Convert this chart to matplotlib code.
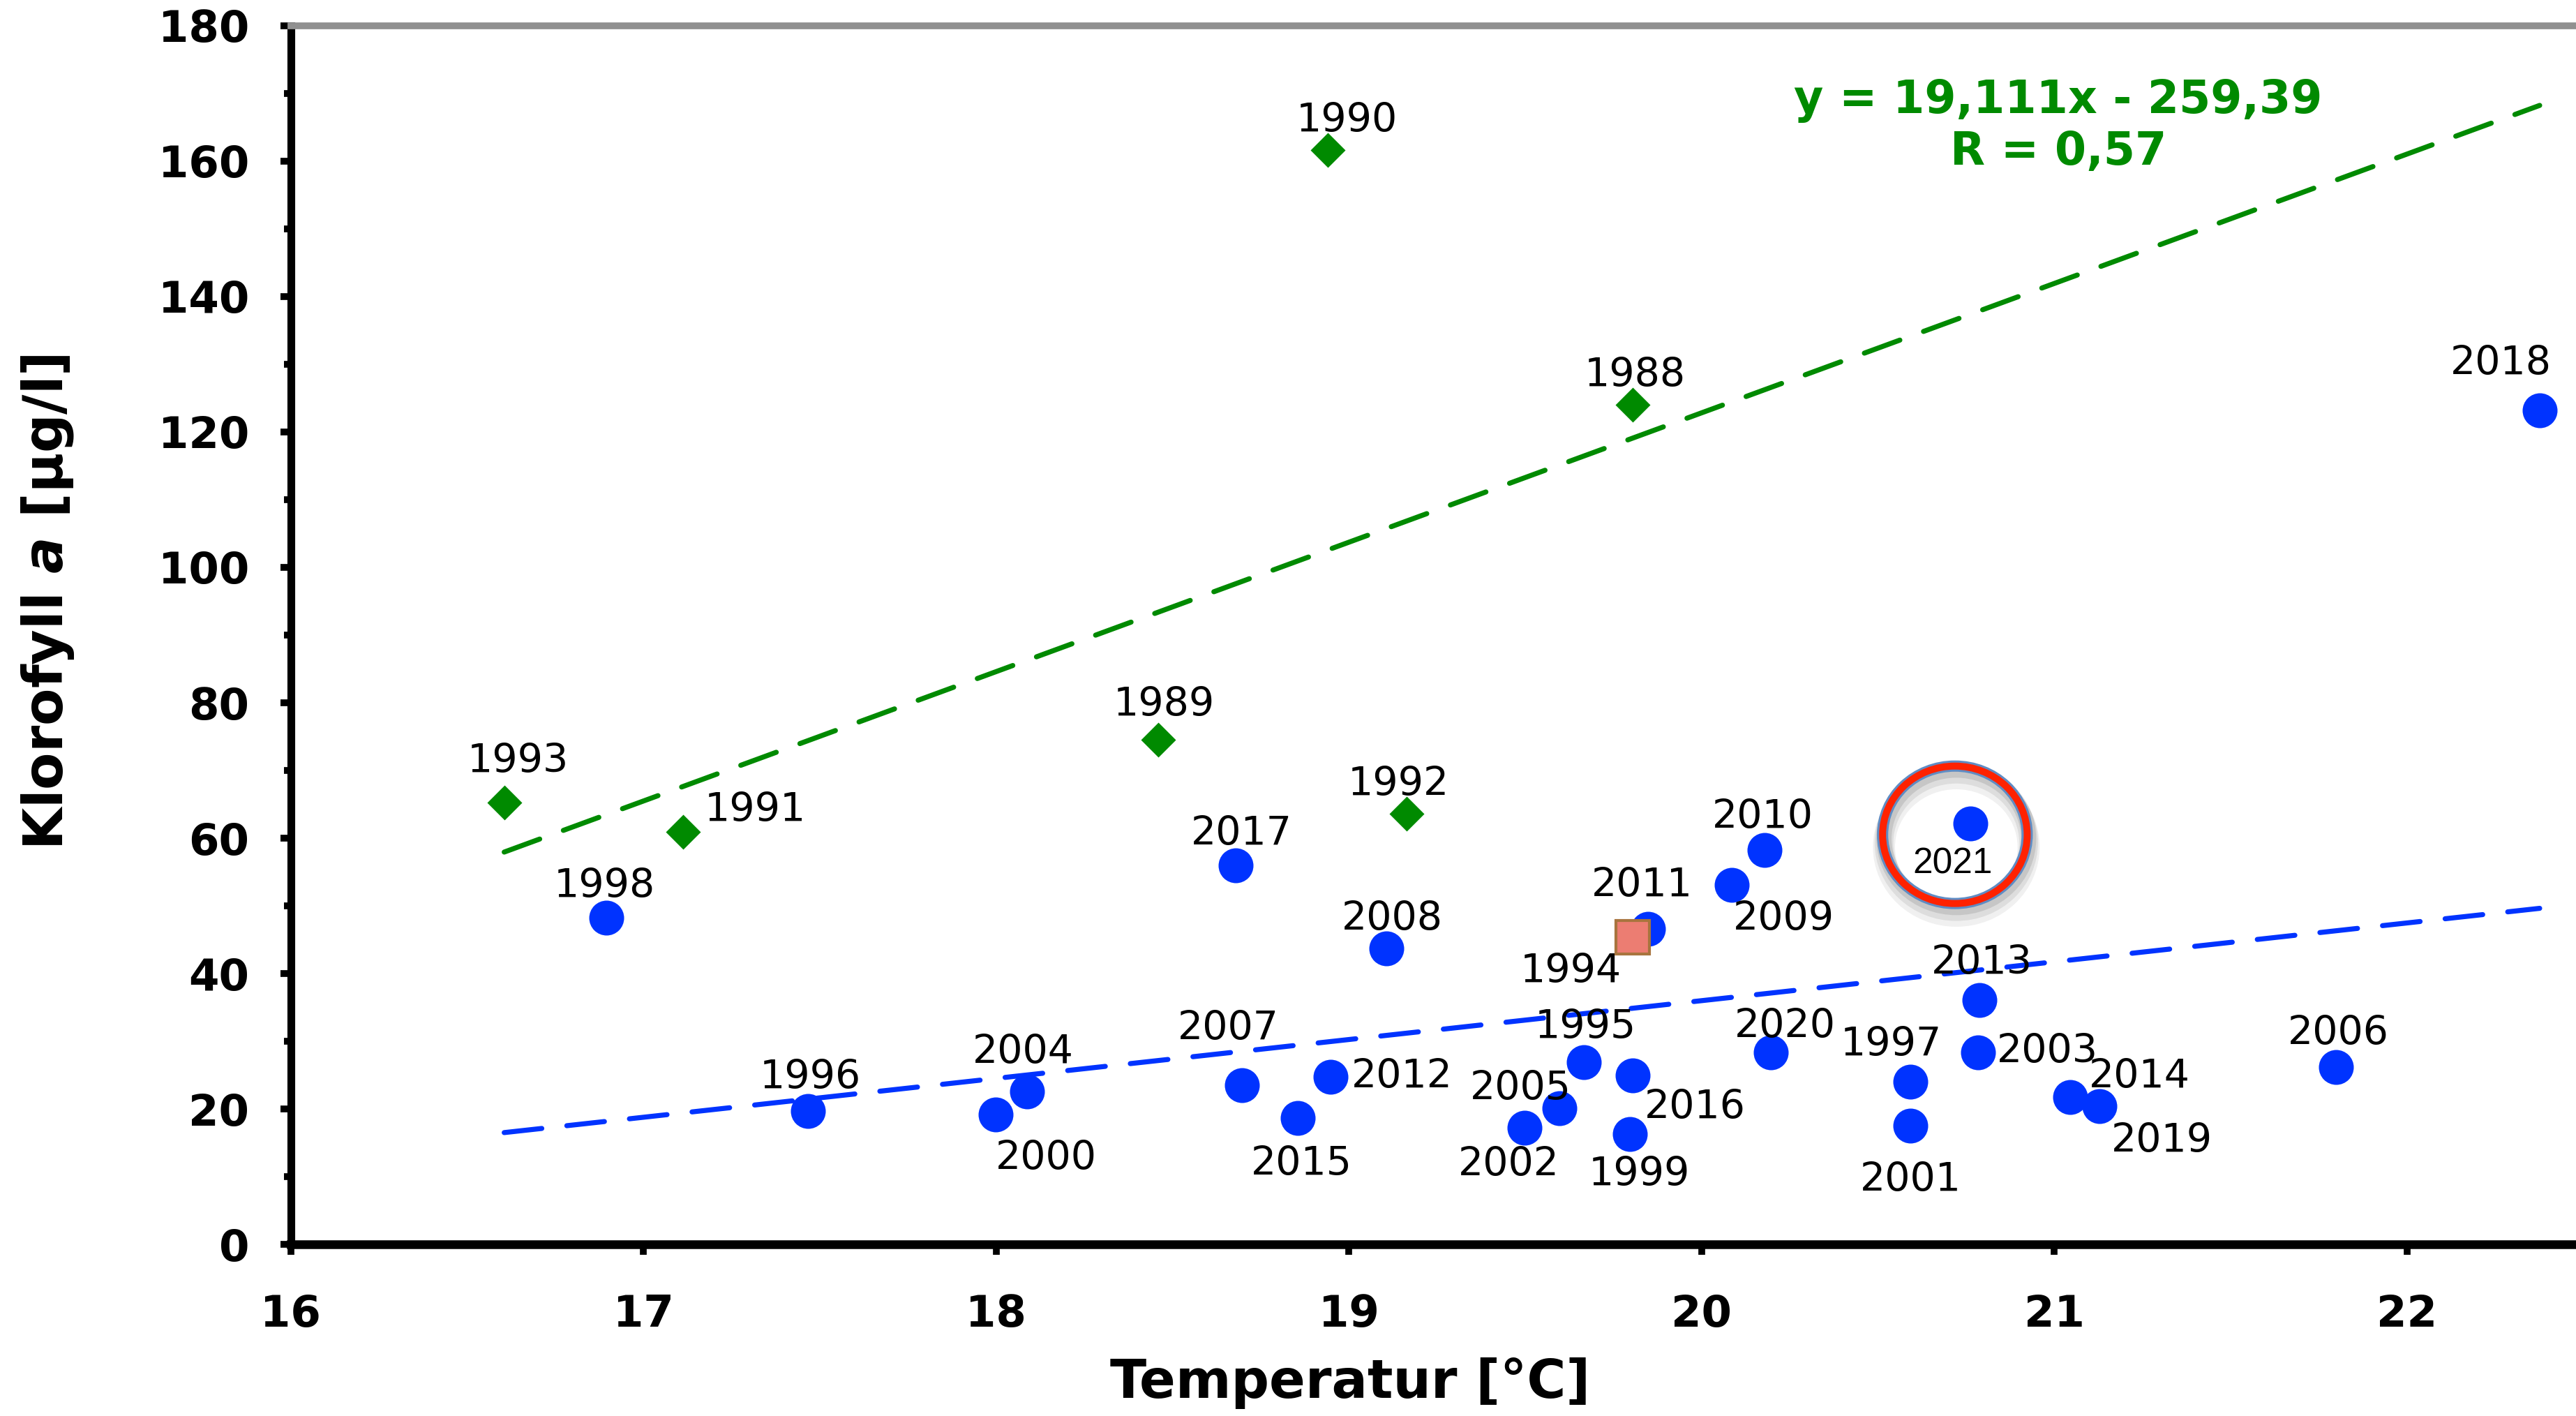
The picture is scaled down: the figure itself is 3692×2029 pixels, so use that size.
import matplotlib.pyplot as plt
import numpy as np
from matplotlib.patches import Ellipse

# green diamonds (early years)
green_years = ['1993', '1991', '1989', '1990', '1992', '1988']
green_temp = [16.605, 17.113, 18.459, 18.939, 19.163, 19.805]
green_chl = [65.3, 60.9, 74.5, 161.6, 63.6, 124.0]

# blue circles
blue_years = ['1998', '1996', '2000', '2004', '2017', '2007', '2015', '2012',
              '2008', '2002', '2005', '1995', '2016', '1999', '2011', '2009',
              '2010', '2020', '1997', '2001', '2021', '2013', '2003', '2014',
              '2019', '2006', '2018']
blue_temp = [16.894, 17.467, 17.998, 18.087, 18.678, 18.697, 18.855, 18.948,
             19.107, 19.498, 19.596, 19.666, 19.805, 19.796, 19.847, 20.085,
             20.178, 20.197, 20.592, 20.592, 20.762, 20.788, 20.783, 21.044,
             21.128, 21.799, 22.376]
blue_chl = [48.3, 19.7, 19.2, 22.6, 56.0, 23.5, 18.7, 24.7,
            43.7, 17.2, 20.1, 26.9, 25.0, 16.3, 46.6, 53.1,
            58.2, 28.4, 24.0, 17.5, 62.2, 36.1, 28.4, 21.8,
            20.4, 26.2, 123.2]

# 1994 square
sq_year = '1994'
sq_temp = 19.805
sq_chl = 45.4

# trend lines
green_fit = (19.111, -259.39)
blue_fit = (5.74, -78.8)

# label offsets in points (dx, dy)
green_off = [(7, 21), (37, 11), (3, 18), (10, 15), (-4, 15), (1, 15)]
blue_off = [(-1, 16), (1, 17), (26, -23), (-2, 20), (3, 16), (-7, 29), (2, -24), (37, 0),
            (3, 15), (-8, -19), (-20, 10), (1, 18), (32, -17), (5, -21), (-3, 22), (27, -18),
            (-1, 17), (7, 13), (-10, 19), (0, -28), (-9, -21), (1, 19), (36, 0), (36, 10),
            (32, -18), (1, 17), (-20, 24)]
sq_off = (-32, -18)

GREEN = '#008a00'
BLUE = '#0033ff'

fig = plt.figure(figsize=(18.46, 10.145), dpi=200)
ax = fig.add_axes([0.1129, 0.1212, 0.8871, 0.8606])

all_x = green_temp + blue_temp
xs = np.array([min(all_x), max(all_x)])
ax.plot(xs, green_fit[0] * xs + green_fit[1], color=GREEN, lw=2.6,
        dashes=(7.5, 5.0), dash_capstyle='round', zorder=2)
ax.plot(xs, blue_fit[0] * xs + blue_fit[1], color=BLUE, lw=2.6,
        dashes=(7.5, 5.0), dash_capstyle='round', zorder=2)

ax.plot(blue_temp, blue_chl, 'o', color=BLUE, ms=18, mec='none', zorder=3)
ax.plot(green_temp, green_chl, 'D', color=GREEN, ms=12.5, mec='none', zorder=3)
ax.plot([sq_temp], [sq_chl], 's', mfc='#ec7d72', mec='#a8743e', mew=1.5, ms=17, zorder=4)

for yr, x, y, off in zip(green_years, green_temp, green_chl, green_off):
    ax.annotate(yr, (x, y), xytext=off, textcoords='offset points',
                ha='center', va='center', fontsize=20.5)
for yr, x, y, off in zip(blue_years, blue_temp, blue_chl, blue_off):
    if yr == '2021':
        ax.annotate(yr, (x, y), xytext=off, textcoords='offset points',
                    ha='center', va='center', fontsize=18.5, family='Liberation Sans')
    else:
        ax.annotate(yr, (x, y), xytext=off, textcoords='offset points',
                    ha='center', va='center', fontsize=20.5)
ax.annotate(sq_year, (sq_temp, sq_chl), xytext=sq_off, textcoords='offset points',
            ha='center', va='center', fontsize=20.5)

# highlight ring around 2021
cx, cy, ew, eh = 20.718, 60.5, 0.41, 20.3
for k, a in zip([0.6, 1.2, 1.8], [0.10, 0.08, 0.06]):
    ax.add_patch(Ellipse((cx + 0.004, cy - k), ew, eh, fill=False, ec='#000000',
                         lw=6 + 3 * k, alpha=a, zorder=4))
ax.add_patch(Ellipse((cx, cy), ew, eh, fill=False, ec='#5f8cc4', lw=5.8, zorder=5))
ax.add_patch(Ellipse((cx, cy), ew, eh, fill=False, ec='#ff2200', lw=3.6, zorder=6))

ax.text(0.799, 0.911, 'y = 19,111x - 259,39\nR = 0,57', transform=fig.transFigure,
        ha='center', va='center', color=GREEN, fontsize=23.4, fontweight='bold',
        linespacing=1.2)

ax.set_xlim(16, 22.479)
ax.set_ylim(0, 180)
ax.set_xticks(np.arange(16, 23, 1))
ax.set_yticks(np.arange(0, 181, 20))
ax.set_yticks(np.arange(10, 180, 20), minor=True)

ax.spines['right'].set_visible(False)
ax.spines['top'].set_color('#909090')
ax.spines['top'].set_linewidth(3.5)
ax.spines['left'].set_linewidth(4)
ax.spines['bottom'].set_linewidth(4.5)

ax.tick_params(axis='both', which='major', direction='out', length=5.5, width=3.5,
               labelsize=22.5)
ax.tick_params(axis='y', which='minor', direction='out', length=3.7, width=3.5)
ax.tick_params(axis='y', which='major', pad=16)
ax.tick_params(axis='x', which='major', pad=20)
for lab in ax.get_xticklabels() + ax.get_yticklabels():
    lab.set_fontweight('bold')

ax.set_xlabel('Temperatur [°C]', fontsize=27.5, fontweight='bold')
ax.xaxis.set_label_coords(0.4637, -0.093)
ax.set_ylabel(r'Klorofyll $\boldsymbol{a}$ [µg/l]', fontsize=28, fontweight='bold')
ax.yaxis.set_label_coords(-0.094, 0.527)

plt.savefig('out.png', dpi=200)
